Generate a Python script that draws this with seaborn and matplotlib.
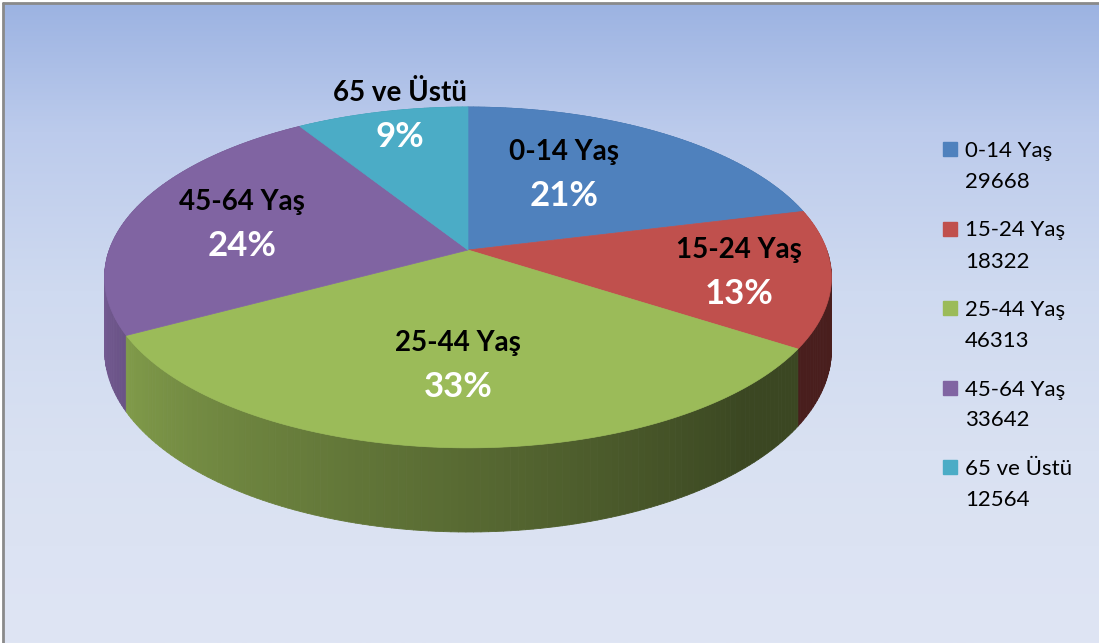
import numpy as np
import matplotlib
matplotlib.use("Agg")
import matplotlib.pyplot as plt
from matplotlib.collections import PolyCollection
from matplotlib.colors import LinearSegmentedColormap, to_rgb
from matplotlib.patches import Rectangle
import seaborn as sns

# Data: population by age group
groups = ["0-14 Yaş", "15-24 Yaş", "25-44 Yaş", "45-64 Yaş", "65 ve Üstü"]
counts = [29668, 18322, 46313, 33642, 12564]
colors = ["#4f81bd", "#c0504d", "#9bbb59", "#8064a2", "#4bacc6"]

# Layout of the 3D pie (pixel space of a 1099x643 canvas)
W, H = 1099, 643
CX, CY = 468, 250          # apex of the top face
RX, RY = 358.7, 166.0      # radii before perspective
K = 0.161                  # perspective strength
DEPTH = 70.6               # wall height
LABEL_R = [0.58, 0.75, 0.62, 0.67, 0.97]
LABEL_NUDGE = [8, 0, 0, 0, -3]   # degrees

sns.set_theme(style="white")
plt.rcParams['font.family'] = ['Lato', 'DejaVu Sans']


def project(x, z):
    '''
    Map a point of the unit disk (x right, z away from viewer) to the canvas.
    '''
    s = 1.0 / (1.0 + K * z)
    return CX + RX * x * s, CY - RY * z * s, s


def wall_shade(theta):
    '''
    Darkening factor of the rim wall, lighter on the left, dark on the right.
    '''
    t = np.mod(theta, 360)
    if t < 180:
        return 0.9
    return float(np.clip(0.865 - 0.0043 * (t - 200), 0.38, 0.92))


def wedge_angles(values):
    frac = np.array(values) / np.sum(values)
    ends = 90 - np.cumsum(frac) * 360
    starts = np.concatenate([[90], ends[:-1]])
    return starts, ends, frac


def draw_background(ax):
    cmap = LinearSegmentedColormap.from_list(
        "bg", [(0, "#9cb3e2"), (0.2, "#bccbec"), (0.45, "#cfdaf0"),
               (0.7, "#d9e1f2"), (1, "#dfe5f4")])
    grad = np.linspace(0, 1, 256).reshape(-1, 1)
    ax.imshow(grad, cmap=cmap, aspect="auto", extent=[3, W, H, 3], zorder=0)
    ax.plot([3, 3], [3, H], color="#8a8a8a", lw=2, zorder=1)
    ax.plot([3, W], [3, 3], color="#8a8a8a", lw=2, zorder=1)


def draw_pie(ax, values, cols):
    starts, ends, frac = wedge_angles(values)

    # side walls, far segments first
    segs = []
    for a0, a1, c in zip(starts, ends, cols):
        base = np.array(to_rgb(c))
        th = np.linspace(a0, a1, max(int(abs(a0 - a1)), 2) + 1)
        for t1, t2 in zip(th[:-1], th[1:]):
            r1, r2 = np.radians(t1), np.radians(t2)
            x1, y1, s1 = project(np.cos(r1), np.sin(r1))
            x2, y2, s2 = project(np.cos(r2), np.sin(r2))
            poly = [(x1, y1), (x2, y2), (x2, y2 + DEPTH * s2), (x1, y1 + DEPTH * s1)]
            zmid = np.sin((r1 + r2) / 2)
            col = base * wall_shade((t1 + t2) / 2)
            segs.append((zmid, poly, col))
    segs.sort(key=lambda s: -s[0])
    pc = PolyCollection([s[1] for s in segs], facecolors=[s[2] for s in segs],
                        edgecolors=[s[2] for s in segs], linewidths=0.6, zorder=2)
    ax.add_collection(pc)

    # top faces
    for a0, a1, c in zip(starts, ends, cols):
        th = np.radians(np.linspace(a0, a1, 200))
        px, py, _ = project(np.cos(th), np.sin(th))
        ax.fill(np.r_[CX, px], np.r_[CY, py], color=c, lw=0.5, ec=c, zorder=3)

    # data labels
    mids = (starts + ends) / 2
    for g, f, m, r, n in zip(groups, frac, mids, LABEL_R, LABEL_NUDGE):
        a = np.radians(m + n)
        lx, ly, _ = project(r * np.cos(a), r * np.sin(a))
        ax.text(lx, ly - 13, g, ha="center", va="baseline", fontsize=20,
                fontweight="bold", color="black", zorder=5)
        ax.text(lx, ly + 33, f"{f * 100:.0f}%", ha="center", va="baseline",
                fontsize=25, fontweight="bold", color="white", zorder=5)


def draw_legend(ax, labels, values, cols):
    for i, (g, v, c) in enumerate(zip(labels, values, cols)):
        y = 157 + i * 79.5
        ax.add_patch(Rectangle((943, y - 15), 14, 14, color=c, zorder=5))
        ax.text(965, y, g, ha="left", va="baseline", fontsize=16, color="black", zorder=5)
        ax.text(965, y + 31, str(v), ha="left", va="baseline", fontsize=16,
                color="black", zorder=5)


if __name__ == "__main__":
    fig = plt.figure(figsize=(W / 100, H / 100), dpi=100)
    fig.patch.set_facecolor("white")
    ax = fig.add_axes([0, 0, 1, 1])
    ax.set_xlim(0, W)
    ax.set_ylim(H, 0)
    ax.axis("off")

    draw_background(ax)
    draw_pie(ax, counts, colors)
    draw_legend(ax, groups, counts, colors)

    fig.savefig("out.png", dpi=100)
